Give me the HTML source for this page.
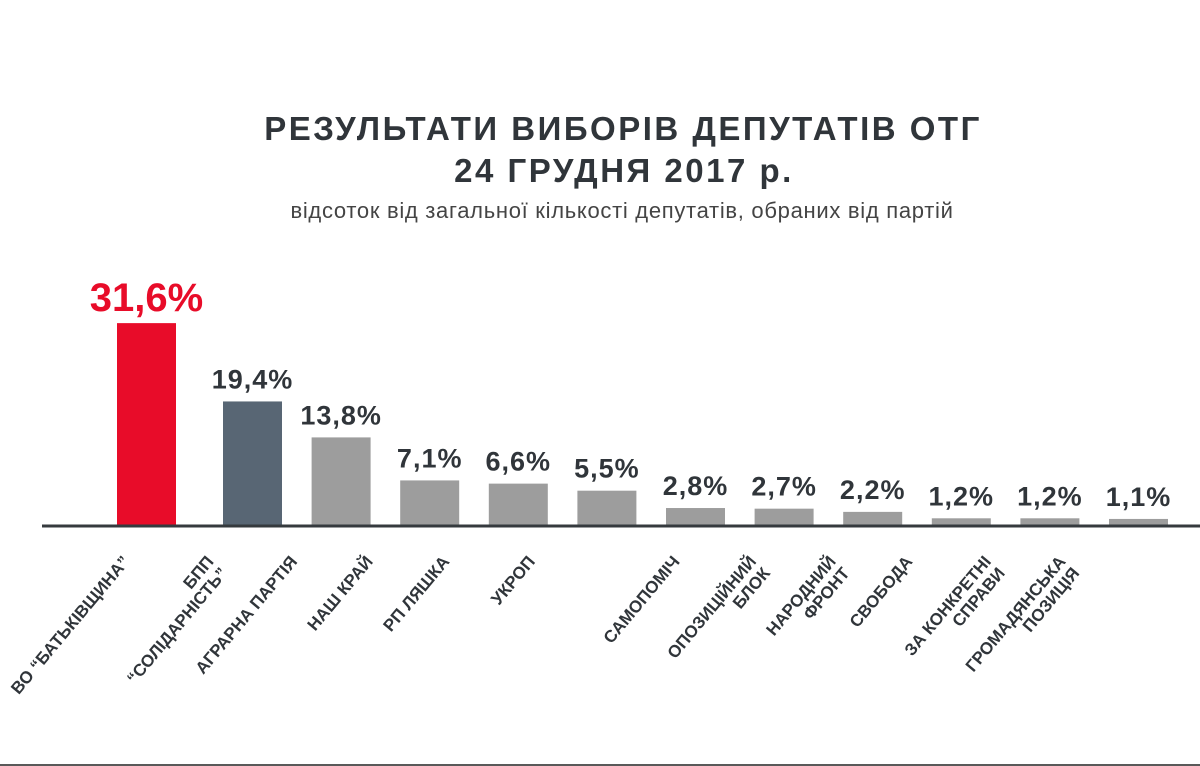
<!DOCTYPE html>
<html><head><meta charset="utf-8"><style>
html,body{margin:0;padding:0;background:#fff;width:1200px;height:766px;overflow:hidden}
svg{display:block;font-family:"Liberation Sans",sans-serif}
</style></head><body>
<svg id="chart" width="1200" height="766">
<text x="623" y="140" text-anchor="middle" font-size="33" font-weight="bold" fill="#30353a" letter-spacing="2.5">РЕЗУЛЬТАТИ ВИБОРІВ ДЕПУТАТІВ ОТГ</text>
<text x="624" y="182" text-anchor="middle" font-size="33" font-weight="bold" fill="#30353a" letter-spacing="2.5">24 ГРУДНЯ 2017 р.</text>
<text x="622" y="218" text-anchor="middle" font-size="22" fill="#444" letter-spacing="0.7">відсоток від загальної кількості депутатів, обраних від партій</text>
<g id="bars"></g>
<line x1="42" y1="526" x2="1200" y2="526" stroke="#353a3e" stroke-width="3"/>
<line x1="0" y1="765" x2="1200" y2="765" stroke="#222" stroke-width="1.5"/>
</svg>
<script>
const categories = [["ВО “БАТЬКІВЩИНА”"],["БПП","“СОЛІДАРНІСТЬ”"],["АГРАРНА ПАРТІЯ"],["НАШ КРАЙ"],["РП  ЛЯШКА"],["УКРОП"],["САМОПОМІЧ"],["ОПОЗИЦІЙНИЙ","БЛОК"],["НАРОДНИЙ","ФРОНТ"],["СВОБОДА"],["ЗА КОНКРЕТНІ","СПРАВИ"],["ГРОМАДЯНСЬКА","ПОЗИЦІЯ"]];
const values = [31.6,19.4,13.8,7.1,6.6,5.5,2.8,2.7,2.2,1.2,1.2,1.1];
const valueLabels = ["31,6%","19,4%","13,8%","7,1%","6,6%","5,5%","2,8%","2,7%","2,2%","1,2%","1,2%","1,1%"];
const labelShift = [-16,-38,-43,-56,-68,-71,-15,-27,-36,-48,-58,-72];
const ns="http://www.w3.org/2000/svg";
const g=document.getElementById('bars');
const baseY=526, pxPerUnit=6.42, barW=59;
function xCenter(i){return i===0?146.5:252.5+(i-1)*88.6;}
function yScale(v){return baseY-v*pxPerUnit;}
values.forEach((v,i)=>{
  const r=document.createElementNS(ns,'rect');
  r.setAttribute('x',xCenter(i)-barW/2);r.setAttribute('y',yScale(v));
  r.setAttribute('width',barW);r.setAttribute('height',baseY-yScale(v));
  r.setAttribute('fill',i===0?'#e80c29':(i===1?'#586674':'#9d9d9d'));
  
  
  g.appendChild(r);
  const t=document.createElementNS(ns,'text');
  t.setAttribute('x',xCenter(i));
  t.setAttribute('y',i===0?yScale(v)-12:yScale(v)-13);
  t.setAttribute('text-anchor','middle');t.setAttribute('font-weight','bold');
  t.setAttribute('font-size',i===0?'40':'27');
  if(i>0) t.setAttribute('letter-spacing','1');
  t.setAttribute('fill',i===0?'#e80c29':'#30353a');
  t.textContent=valueLabels[i];
  
  
  g.appendChild(t);
  const lx=xCenter(i)+labelShift[i], ly=562;
  const lt=document.createElementNS(ns,'text');
  lt.setAttribute('transform','translate('+lx+','+ly+') rotate(-50)');
  lt.setAttribute('text-anchor','end');lt.setAttribute('font-size','17');
  lt.setAttribute('font-weight','bold');lt.setAttribute('fill','#30353a');
  
  
  categories[i].forEach((line,j)=>{
    const ts=document.createElementNS(ns,'tspan');
    ts.setAttribute('x',0);ts.setAttribute('y',j*18);
    ts.textContent=line;lt.appendChild(ts);
  });
  g.appendChild(lt);
});
</script>
</body></html>
